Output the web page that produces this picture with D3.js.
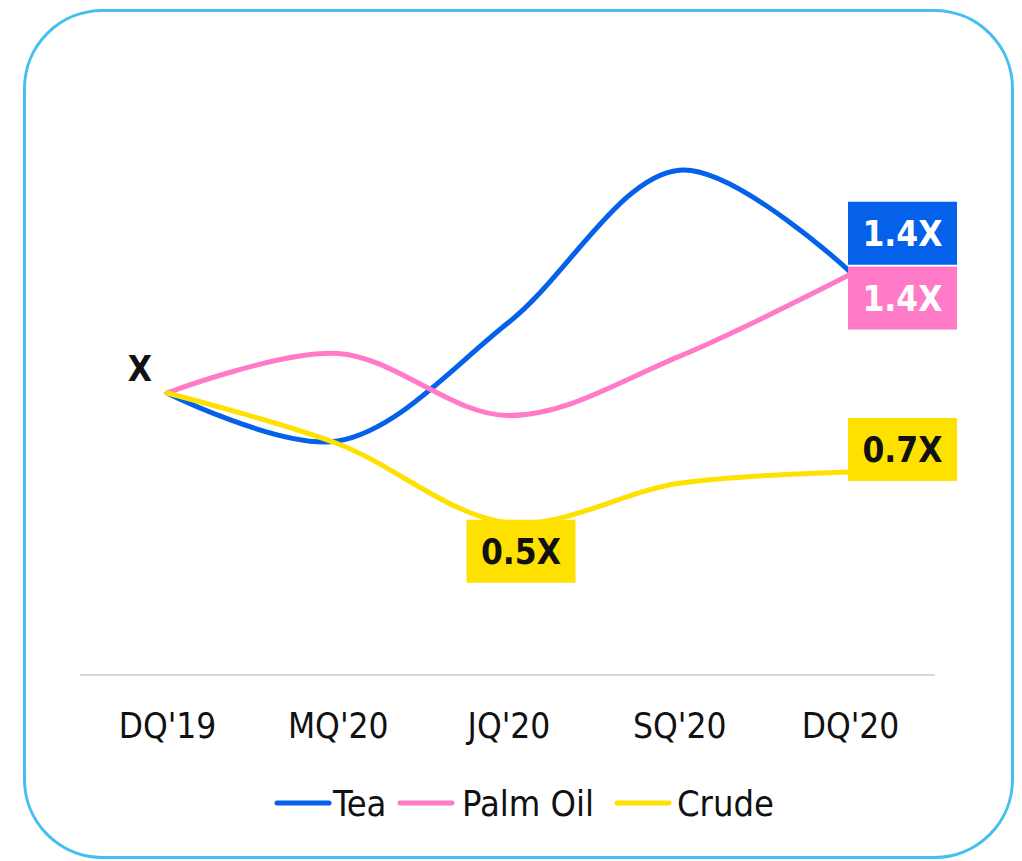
<!DOCTYPE html>
<html>
<head>
<meta charset="utf-8">
<script src="https://cdn.jsdelivr.net/npm/d3@7"></script>
<style>
  html, body { margin: 0; padding: 0; background: #ffffff; }
  svg { display: block; }
  text { font-family: "DejaVu Sans Condensed", "Liberation Sans Narrow", "Roboto", sans-serif; }
</style>
</head>
<body>
<svg id="chart" width="1022" height="861"></svg>
<script>
const categories = ["DQ'19", "MQ'20", "JQ'20", "SQ'20", "DQ'20"];
const seriesNames = ["Tea", "Palm Oil", "Crude"];
const teaValues = [1.0, 0.83, 1.25, 1.79, 1.43];
const palmOilValues = [1.0, 1.14, 0.92, 1.13, 1.42];
const crudeValues = [1.0, 0.82, 0.54, 0.68, 0.72];
const yDomain = [0, 2];
const startLabel = "X";
const endLabels = [
  { series: "Tea", index: 4, text: "1.4X" },
  { series: "Palm Oil", index: 4, text: "1.4X" },
  { series: "Crude", index: 4, text: "0.7X" },
  { series: "Crude", index: 2, text: "0.5X" }
];

const colors = { "Tea": "#0561EA", "Palm Oil": "#FF7BC8", "Crude": "#FFE100" };
const textColors = { "Tea": "#ffffff", "Palm Oil": "#ffffff", "Crude": "#111111" };
// label box offsets relative to the data point (style only)
const labelOffsets = {
  "Tea-4": { dx: -2, dy: -70 },
  "Palm Oil-4": { dx: -2, dy: -8 },
  "Crude-4": { dx: -2, dy: -54 },
  "Crude-2": { dx: -42, dy: -3 }
};

const series = [
  { name: "Tea", values: teaValues },
  { name: "Palm Oil", values: palmOilValues },
  { name: "Crude", values: crudeValues }
];

const svg = d3.select("#chart");

// outer rounded frame
svg.append("rect")
  .attr("x", 24.5).attr("y", 10.5)
  .attr("width", 988).attr("height", 847)
  .attr("rx", 78).attr("ry", 78)
  .attr("fill", "#ffffff")
  .attr("stroke", "#45BFEF")
  .attr("stroke-width", 3);

const x = d3.scalePoint().domain(categories).range([167, 850]);
const y = d3.scaleLinear().domain(yDomain).range([675, 111]);

// baseline axis line
svg.append("line")
  .attr("x1", 80).attr("x2", 935)
  .attr("y1", y(0)).attr("y2", y(0))
  .attr("stroke", "#d9d9d9").attr("stroke-width", 2);

// x axis labels
const xAxis = d3.axisBottom(x).tickSize(0).tickPadding(0);
const gx = svg.append("g").attr("transform", `translate(0,${y(0) + 63})`).call(xAxis);
gx.select(".domain").remove();
gx.selectAll("text")
  .attr("dy", 0)
  .attr("fill", "#111111")
  .style("font-size", "35px")
  .style("font-family", "\"DejaVu Sans Condensed\", \"Liberation Sans Narrow\", sans-serif");

const line = d3.line()
  .x((d, i) => x(categories[i]))
  .y(d => y(d))
  .curve(d3.curveCatmullRom.alpha(0.5));

const drawOrder = ["Tea", "Palm Oil", "Crude"];
drawOrder.forEach(name => {
  const s = series.find(d => d.name === name);
  svg.append("path")
    .datum(s.values)
    .attr("fill", "none")
    .attr("stroke", colors[name])
    .attr("stroke-width", 5)
    .attr("stroke-linecap", "round")
    .attr("d", line);
});

// start label "X"
svg.append("text")
  .attr("x", x(categories[0]) - 27)
  .attr("y", y(teaValues[0]) - 12)
  .attr("text-anchor", "middle")
  .attr("font-weight", "bold")
  .attr("fill", "#111111")
  .style("font-size", "35px")
  .text(startLabel);

// value label boxes
const boxW = 109, boxH = 63;
endLabels.forEach(l => {
  const s = series.find(d => d.name === l.series);
  const px = x(categories[l.index]);
  const py = y(s.values[l.index]);
  const off = labelOffsets[l.series + "-" + l.index];
  const g = svg.append("g").attr("transform", `translate(${px + off.dx},${py + off.dy})`);
  g.append("rect")
    .attr("width", boxW).attr("height", boxH)
    .attr("fill", colors[l.series]);
  g.append("text")
    .attr("x", boxW / 2).attr("y", boxH / 2 + 13)
    .attr("text-anchor", "middle")
    .attr("font-weight", "bold")
    .attr("fill", textColors[l.series])
    .style("font-size", "35px")
    .text(l.text);
});

// legend
const legendY = 803;
const legendItems = [
  { name: "Tea", sx: 277, tx: 333 },
  { name: "Palm Oil", sx: 400, tx: 462 },
  { name: "Crude", sx: 617, tx: 677 }
];
const lg = svg.append("g");
legendItems.forEach(it => {
  lg.append("line")
    .attr("x1", it.sx).attr("x2", it.sx + 52)
    .attr("y1", legendY).attr("y2", legendY)
    .attr("stroke", colors[it.name])
    .attr("stroke-width", 5)
    .attr("stroke-linecap", "round");
  lg.append("text")
    .attr("x", it.tx).attr("y", legendY + 13)
    .attr("fill", "#111111")
    .style("font-size", "36px")
    .text(it.name);
});
</script>
</body>
</html>
